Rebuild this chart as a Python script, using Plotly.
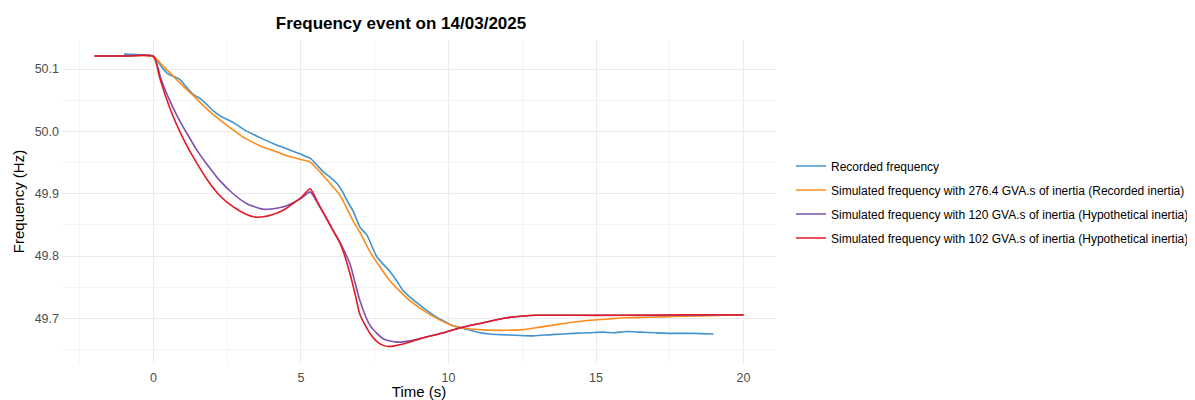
import plotly.graph_objects as go

# ---- data ----
t_rec = [-1.0, -0.5, 0.0, 0.15, 0.33, 0.5, 0.7, 0.9, 1.1, 1.36, 1.6, 1.81, 2.05, 2.26, 2.5, 2.71, 3.0, 3.17, 3.39, 3.7, 4.07, 4.3, 4.52, 4.8, 4.97,
         5.2, 5.31, 5.5, 5.76, 6.05, 6.25, 6.4, 6.55, 6.78, 7.0, 7.23, 7.57, 8.02, 8.25, 8.47, 8.8, 9.15, 9.5, 9.83, 10.1, 10.51,
         11.07, 11.4, 11.75, 12.3, 12.88, 13.5, 14.24, 14.8, 15.25, 15.6, 16.04, 16.5, 17.0, 17.63, 18.3, 18.98]
f_rec = [50.124, 50.123, 50.121, 50.112, 50.100, 50.092, 50.088, 50.083, 50.072, 50.059, 50.052, 50.043, 50.032, 50.025, 50.019, 50.014, 50.005, 50.000, 49.995, 49.988, 49.980, 49.976, 49.972, 49.967, 49.964,
         49.959, 49.957, 49.948, 49.935, 49.924, 49.915, 49.904, 49.890, 49.871, 49.846, 49.834, 49.799, 49.775, 49.760, 49.744, 49.730, 49.717, 49.705, 49.696, 49.689, 49.684,
         49.677, 49.675, 49.674, 49.673, 49.672, 49.674, 49.676, 49.677, 49.678, 49.677, 49.679, 49.678, 49.677, 49.676, 49.676, 49.675]

t_276 = [-2.0, -1.0, 0.0, 0.3, 0.68, 1.0, 1.36, 1.7, 2.03, 2.4, 2.71, 3.0, 3.39, 3.7, 4.07, 4.4, 4.75, 5.0, 5.31, 5.5, 5.76, 6.05, 6.33,
         6.78, 7.0, 7.35, 8.02, 8.7, 9.37, 10.05, 10.4, 11.07, 11.4, 12.0, 12.54, 13.1, 13.67, 14.2, 14.8, 15.4, 15.93, 16.8,
         17.63, 18.5, 19.3, 20.0]
f_276 = [50.121, 50.121, 50.120, 50.106, 50.088, 50.073, 50.057, 50.041, 50.027, 50.013, 50.002, 49.992, 49.982, 49.975, 49.969, 49.963, 49.958, 49.955, 49.951, 49.942, 49.929, 49.913, 49.897,
         49.855, 49.838, 49.806, 49.760, 49.728, 49.706, 49.690, 49.685, 49.682, 49.681, 49.681, 49.682, 49.686, 49.690, 49.694, 49.697, 49.699, 49.701, 49.702,
         49.703, 49.704, 49.705, 49.705]

t_120 = [-2.0, -1.0, 0.0, 0.25, 0.5, 0.8, 1.18, 1.5, 1.85, 2.25, 2.7, 3.17, 3.73, 4.07, 4.41, 4.75, 5.05, 5.31, 5.6, 5.9, 6.1, 6.3,
         6.45, 6.67, 7.0, 7.35, 7.8, 8.25, 8.7, 9.15, 9.83, 10.4, 11.07, 11.98, 12.54, 13.0, 14.0, 16.0, 18.0, 20.0]
f_120 = [50.121, 50.121, 50.120, 50.085, 50.055, 50.025, 49.993, 49.968, 49.945, 49.921, 49.900, 49.884, 49.875, 49.876, 49.879, 49.886, 49.894, 49.903, 49.882, 49.858, 49.840, 49.824,
         49.810, 49.786, 49.728, 49.688, 49.667, 49.662, 49.664, 49.669, 49.677, 49.685, 49.692, 49.701, 49.704, 49.705, 49.705, 49.705, 49.705, 49.706]

t_102 = [-2.0, -1.0, 0.0, 0.2, 0.42, 0.65, 0.91, 1.2, 1.47, 1.8, 2.15, 2.5, 2.94, 3.39, 3.73, 4.07, 4.41, 4.75, 5.05, 5.31, 5.6, 5.9, 6.1, 6.3,
         6.45, 6.67, 6.85, 7.0, 7.35, 7.65, 7.95, 8.47, 9.15, 9.83, 10.4, 11.07, 11.98, 12.54, 13.0, 14.0, 16.0, 18.0, 20.0]
f_102 = [50.121, 50.121, 50.120, 50.088, 50.055, 50.026, 49.998, 49.971, 49.949, 49.924, 49.902, 49.886, 49.872, 49.863, 49.863, 49.867, 49.874, 49.885, 49.896, 49.908, 49.883, 49.857, 49.840, 49.823,
         49.805, 49.770, 49.736, 49.706, 49.675, 49.660, 49.655, 49.659, 49.669, 49.677, 49.685, 49.692, 49.701, 49.704, 49.705, 49.705, 49.705, 49.706, 49.706]

names = ["Recorded frequency",
         "Simulated frequency with 276.4 GVA.s of inertia (Recorded inertia)",
         "Simulated frequency with 120 GVA.s of inertia (Hypothetical inertia)",
         "Simulated frequency with 102 GVA.s of inertia (Hypothetical inertia)"]
colors = ["#4393CE", "#FF8C1A", "#7B52AE", "#E41A26"]

x_ticks = [0, 5, 10, 15, 20]
y_ticks = [49.7, 49.8, 49.9, 50.0, 50.1]

W, H = 1187, 392  # page body has an 8px margin inside the 1195x400 window

fig = go.Figure()
series = [(t_rec, f_rec), (t_276, f_276), (t_120, f_120), (t_102, f_102)]
for i, ((tx, fy), nm, c) in enumerate(zip(series, names, colors)):
    fig.add_trace(go.Scatter(x=tx, y=fy, mode="lines", name=nm,
                             line=dict(color=c, width=1.6, shape="spline", smoothing=0.6),
                             legendgroup=str(i)))

fig.update_layout(
    width=W, height=H,
    margin=dict(l=54, r=419, t=32, b=37, autoexpand=False),
    paper_bgcolor="white", plot_bgcolor="white",
    font=dict(family="Liberation Sans, Arial, sans-serif", color="black"),
    title=dict(text="<b>Frequency event on 14/03/2025</b>", x=393 / W, xref="container", xanchor="center",
               y=1 - 14.7 / H, yanchor="middle", font=dict(size=17, color="black")),
    showlegend=True,
    legend=dict(x=783 / W, xref="container", xanchor="left",
                y=1 - 194 / H, yref="container", yanchor="middle",
                font=dict(size=12, color="black"), tracegroupgap=5, traceorder="grouped",
                bgcolor="rgba(0,0,0,0)"),
)
fig.update_xaxes(range=[-3.1, 21.1], tickvals=x_ticks, ticktext=[str(v) for v in x_ticks],
                 showgrid=True, gridcolor="#ebebeb", gridwidth=1, zeroline=False, showline=False,
                 ticks="", tickfont=dict(size=12.5, color="#4d4d4d"), automargin=False, ticklabelstandoff=5,
                 title=dict(text="Time (s)", font=dict(size=15, color="black"), standoff=2),
                 minor=dict(tickvals=[-2.5, 2.5, 7.5, 12.5, 17.5], showgrid=True, gridcolor="#f4f4f4", gridwidth=1))
fig.update_yaxes(range=[49.6285, 50.1466], tickvals=y_ticks, ticktext=[f"{v:.1f}" for v in y_ticks],
                 showgrid=True, gridcolor="#ebebeb", gridwidth=1, zeroline=False, showline=False,
                 ticks="", tickfont=dict(size=12.5, color="#4d4d4d"), automargin=False, ticklabelstandoff=2,
                 title=dict(text="Frequency (Hz)", font=dict(size=15, color="black"), standoff=6),
                 minor=dict(tickvals=[49.65, 49.75, 49.85, 49.95, 50.05], showgrid=True, gridcolor="#f4f4f4", gridwidth=1))

fig.write_html("out.html")
